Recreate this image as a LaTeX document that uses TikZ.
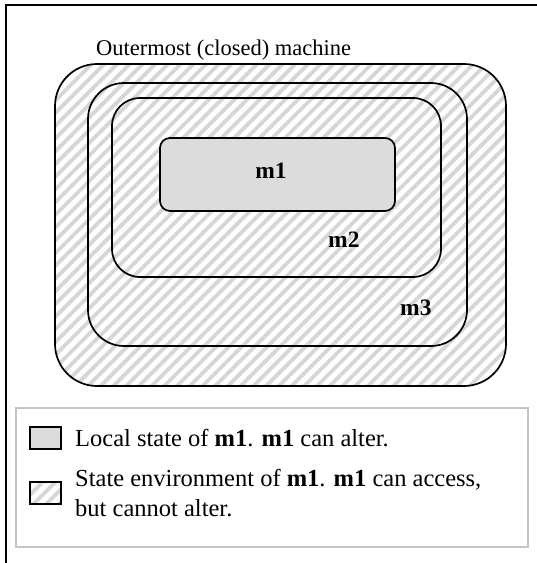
\documentclass[tikz,border=0pt]{standalone}
\usepackage{fontspec}
\setmainfont{Liberation Serif}
\usetikzlibrary{patterns.meta}
\definecolor{boxgray}{HTML}{DCDCDC}
\definecolor{hatchgray}{HTML}{D6D6D6}
\definecolor{legline}{HTML}{C4C4C4}
\begin{document}
\begin{tikzpicture}[x=1pt,y=-1pt,
  machine/.style={draw, line width=1.7pt, rounded corners=#1, inner sep=0pt, outer sep=0pt},
  hatched/.style={pattern={Lines[angle=45,distance=9pt,line width=3.8pt]}, pattern color=hatchgray},
  mlabel/.style={font=\fontsize{23.5}{28}\selectfont\bfseries, inner sep=0pt},
  legtext/.style={font=\fontsize{24.5}{30}\selectfont, inner sep=0pt, anchor=base west},
  swatch/.style={draw, line width=1.5pt, minimum width=31pt, minimum height=22pt, inner sep=0pt, anchor=north west}]
\useasboundingbox (0,0) rectangle (537,563);
\fill[white] (0,0) rectangle (537,563);
% frame
\draw[line width=2pt] (537,5) -- (6,5) -- (6,563);
% machines
\node[machine=42pt, hatched, minimum width=451pt, minimum height=322pt] (outer) at (280.5,225) {};
\node[machine=36pt, minimum width=379pt, minimum height=263pt] (m3box) at (277.5,214.5) {};
\node[machine=28pt, minimum width=329pt, minimum height=179pt] (m2box) at (276.5,187.5) {};
\node[machine=10pt, fill=boxgray, minimum width=235pt, minimum height=73pt] (m1box) at (277.5,174.5) {};
\node[mlabel, anchor=base] (m1) at (271,178) {m1};
\node[mlabel, anchor=base west] (m2) at (328,247.5) {m2};
\node[mlabel, anchor=base west] (m3) at (400,315.5) {m3};
\node[font=\fontsize{22.5}{27}\selectfont, inner sep=0pt, anchor=base west] (title) at (96,55) {Outermost (closed) machine};
% legend
\node[draw=legline, line width=1.5pt, minimum width=512pt, minimum height=139pt, inner sep=0pt, anchor=north west] (legend) at (15,407) {};
\node[swatch, fill=boxgray] (sw1) at (29,426) {};
\node[legtext] (lt1) at (75,446.5) {Local state of \textbf{m1}. \textbf{m1} can alter.};
\node[swatch, hatched] (sw2) at (29,481) {};
\node[legtext] (lt2a) at (75,486) {State environment of \textbf{m1}. \textbf{m1} can access,};
\node[legtext] (lt2b) at (75,516) {but cannot alter.};
\end{tikzpicture}
\end{document}
